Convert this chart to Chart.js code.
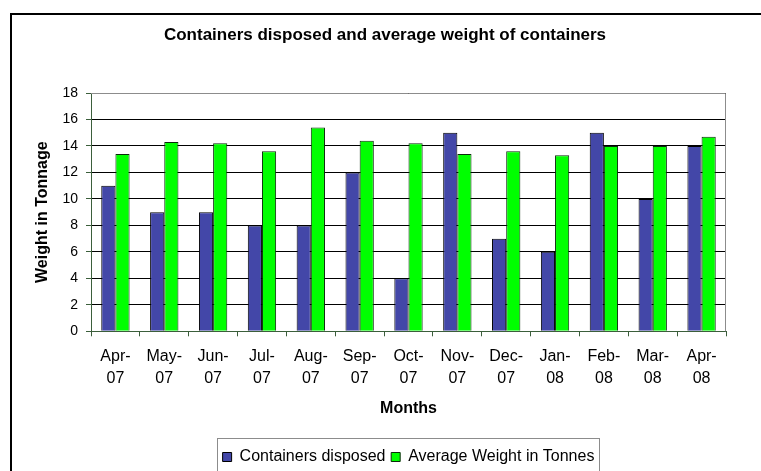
<!DOCTYPE html>
<html>
<head>
<meta charset="utf-8">
<script src="https://cdn.jsdelivr.net/npm/chart.js@4/dist/chart.umd.min.js"></script>
<style>
  body { margin: 0; background: #fff; }
  #wrap { width: 761px; height: 471px; }
</style>
</head>
<body>
<div id="wrap"><canvas id="myChart" width="761" height="471"></canvas></div>
<script>
// months along the bottom, shown on two lines like the original
var months = [['Apr-','07'], ['May-','07'], ['Jun-','07'], ['Jul-','07'], ['Aug-','07'], ['Sep-','07'],
              ['Oct-','07'], ['Nov-','07'], ['Dec-','07'], ['Jan-','08'], ['Feb-','08'], ['Mar-','08'], ['Apr-','08']];
var disposed = [11, 9, 9, 8, 8, 12, 4, 15, 7, 6, 15, 10, 14];
var avgWeight = [13.4, 14.3, 14.2, 13.6, 15.4, 14.4, 14.2, 13.4, 13.6, 13.3, 14, 14, 14.7];
var seriesNames = ['Containers disposed', 'Average Weight in Tonnes'];

var font = "'Liberation Sans', Arial, sans-serif";
var axisGreen = '#3b5e3b';

// frame, plot border and legend box
var decor = {
  id: 'decor',
  beforeDatasetsDraw: function(chart) {
    var c = chart.ctx, a = chart.chartArea;
    c.save();
    c.strokeStyle = '#8c8c8c';
    c.lineWidth = 1;
    c.beginPath();
    c.moveTo(a.left, a.top + 0.5);
    c.lineTo(a.right - 0.5, a.top + 0.5);
    c.lineTo(a.right - 0.5, a.bottom);
    c.stroke();
    c.restore();
  },
  afterDraw: function(chart) {
    var c = chart.ctx;
    c.save();
    c.strokeStyle = '#000';
    c.lineWidth = 2;
    c.strokeRect(11, 14, 800, 500);
    var boxes = chart.legend.legendHitBoxes;
    if (boxes && boxes.length) {
      var l = boxes[0].left, r = boxes[boxes.length - 1].left + boxes[boxes.length - 1].width;
      var t = boxes[0].top;
      c.strokeStyle = '#8c8c8c';
      c.lineWidth = 1;
      c.strokeRect(Math.round(l) - 5.5, Math.round(t) - 10.5, Math.round(r - l) + 10, 40);
    }
    c.restore();
  }
};

var ctx = document.getElementById('myChart');
var myChart = new Chart(ctx, {
  type: 'bar',
  data: {
    labels: months,
    datasets: [{
      label: seriesNames[0],
      data: disposed,
      backgroundColor: '#4347a8',
      borderColor: '#000',
      borderWidth: 1,
      categoryPercentage: 0.58,
      barPercentage: 1
    }, {
      label: seriesNames[1],
      data: avgWeight,
      backgroundColor: '#00ff00',
      borderColor: '#0a2a0a',
      borderWidth: 1,
      categoryPercentage: 0.58,
      barPercentage: 1
    }]
  },
  options: {
    responsive: false,
    animation: false,
    layout: { padding: { left: 9, right: 0, top: 0, bottom: -4 } },
    plugins: {
      title: {
        display: true,
        text: 'Containers disposed and average weight of containers',
        color: '#000',
        font: { family: font, size: 17, weight: 'bold' },
        padding: { top: 25, bottom: 47.6 }
      },
      legend: {
        position: 'bottom',
        fullSize: false,
        labels: {
          color: '#000',
          font: { family: font, size: 16 },
          boxWidth: 9,
          boxHeight: 9,
          padding: 5.7
        }
      },
      tooltip: { enabled: false }
    },
    scales: {
      x: {
        grid: { offset: true, drawOnChartArea: false, color: axisGreen, tickLength: 5 },
        border: { color: axisGreen, width: 1 },
        ticks: { color: '#000', font: { family: font, size: 16, lineHeight: 1.375 }, padding: 9, maxRotation: 0, autoSkip: false },
        title: { display: true, text: 'Months', color: '#000', font: { family: font, size: 16, weight: 'bold' }, padding: { top: 0, bottom: 25 } },
        afterFit: function(s) { s.height = 112; }
      },
      y: {
        min: 0,
        max: 18,
        ticks: { stepSize: 2, color: '#000', font: { family: font, size: 14 }, padding: 8 },
        grid: { color: '#000', tickLength: 5, tickColor: axisGreen },
        border: { color: axisGreen, width: 1 },
        title: { display: true, text: 'Weight in Tonnage', color: '#000', font: { family: font, size: 16, weight: 'bold' }, padding: { top: 24, bottom: 0 } },
        afterFit: function(s) { s.width = 82; }
      },
      // empty right-hand scale, only keeps the margin to the right of the plot
      spacer: {
        type: 'linear',
        position: 'right',
        display: true,
        grid: { display: false },
        border: { display: false },
        ticks: { display: false },
        afterFit: function(s) { s.width = 35; }
      }
    }
  },
  plugins: [decor]
});
</script>
</body>
</html>
